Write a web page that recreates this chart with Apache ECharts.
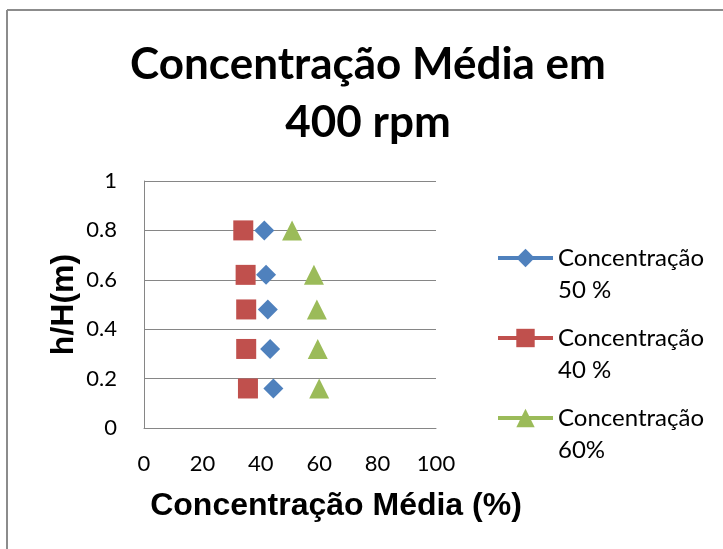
<!DOCTYPE html>
<html>
<head>
<meta charset="utf-8">
<script src="https://cdn.jsdelivr.net/npm/echarts@6/dist/echarts.min.js"></script>
<style>
  html, body { margin: 0; padding: 0; background: #fff; }
  #chart { width: 723px; height: 549px; }
</style>
</head>
<body>
<div id="chart"></div>
<script>
// Mean concentration profiles at 400 rpm: height ratio vs. concentration (%)
const heightRatio = [0.8, 0.62, 0.48, 0.32, 0.16];
const conc50 = [41.2, 41.8, 42.4, 43.2, 44.3];
const conc40 = [34.0, 34.8, 35.0, 35.0, 35.6];
const conc60 = [50.7, 58.2, 59.2, 59.5, 60.0];

const seriesNames = ['Concentração\n50 %', 'Concentração\n40 %', 'Concentração\n60%'];
const seriesColors = ['#4F81BD', '#C0504D', '#9BBB59'];
const seriesSymbols = ['diamond', 'rect', 'triangle'];
const seriesValues = [conc50, conc40, conc60];

const xTicks = { min: 0, max: 100, interval: 20 };
const yTicks = { min: 0, max: 1, interval: 0.2 };

const chartTitle = 'Concentração Média em\n400 rpm';
const xTitle = 'Concentração Média (%)';
const yTitle = 'h/H(m)';

const bodyFont = 'Lato';
const chart = echarts.init(document.getElementById('chart'), null, { renderer: 'canvas' });

const series = seriesNames.map((name, i) => ({
  name: name,
  type: 'line',
  data: seriesValues[i].map((x, k) => [x, heightRatio[k]]),
  symbol: seriesSymbols[i],
  symbolSize: 20,
  showSymbol: true,
  itemStyle: { color: seriesColors[i] },
  lineStyle: { width: 0, opacity: 0 },
  emphasis: { disabled: true },
  animation: false
}));

chart.setOption({
  animation: false,
  title: [
    {
      text: chartTitle,
      left: 368,
      textAlign: 'center',
      top: 36,
      padding: 0,
      textStyle: {
        fontFamily: bodyFont,
        fontWeight: 'bold',
        fontSize: 44,
        lineHeight: 58,
        color: '#000'
      }
    },
    {
      // horizontal axis title
      text: xTitle,
      left: 336,
      textAlign: 'center',
      top: 488,
      padding: 0,
      textStyle: {
        fontFamily: 'Liberation Sans',
        fontWeight: 'bold',
        fontSize: 32,
        lineHeight: 36,
        color: '#000'
      }
    }
  ],
  legend: {
    orient: 'vertical',
    left: 496,
    top: 210,
    padding: 0,
    itemWidth: 55,
    itemHeight: 23,
    itemGap: -16,
    selectedMode: false,
    data: seriesNames,
    // leading blank line keeps the first text line level with the icon
    formatter: name => '\n' + name,
    lineStyle: { width: 4, opacity: 1 },
    textStyle: {
      fontFamily: bodyFont,
      fontSize: 24,
      lineHeight: 32,
      color: '#000'
    }
  },
  grid: { left: 144, right: 287, top: 181, bottom: 121, containLabel: false },
  xAxis: {
    type: 'value',
    min: xTicks.min, max: xTicks.max, interval: xTicks.interval,
    axisLine: { show: true, lineStyle: { color: '#868686', width: 1 } },
    axisTick: { show: false },
    splitLine: { show: false },
    axisLabel: { fontFamily: bodyFont, fontSize: 22, color: '#000', margin: 25 }
  },
  yAxis: {
    type: 'value',
    min: yTicks.min, max: yTicks.max, interval: yTicks.interval,
    name: yTitle,
    nameLocation: 'middle',
    nameGap: 64,
    nameRotate: 90,
    nameTextStyle: { fontFamily: 'Liberation Sans', fontWeight: 'bold', fontSize: 32, color: '#000' },
    axisLine: { show: true, lineStyle: { color: '#868686', width: 1 } },
    axisTick: { show: false },
    splitLine: { show: true, lineStyle: { color: '#868686', width: 1 } },
    axisLabel: { fontFamily: bodyFont, fontSize: 22, color: '#000', margin: 27 }
  },
  graphic: [
    // chart frame (left and top edges)
    { type: 'line', shape: { x1: 7, y1: 10, x2: 7, y2: 549 }, style: { stroke: '#8c8c8c', lineWidth: 2 } },
    { type: 'line', shape: { x1: 7, y1: 10, x2: 723, y2: 10 }, style: { stroke: '#8c8c8c', lineWidth: 2 } }
  ],
  series: series
});
</script>
</body>
</html>
